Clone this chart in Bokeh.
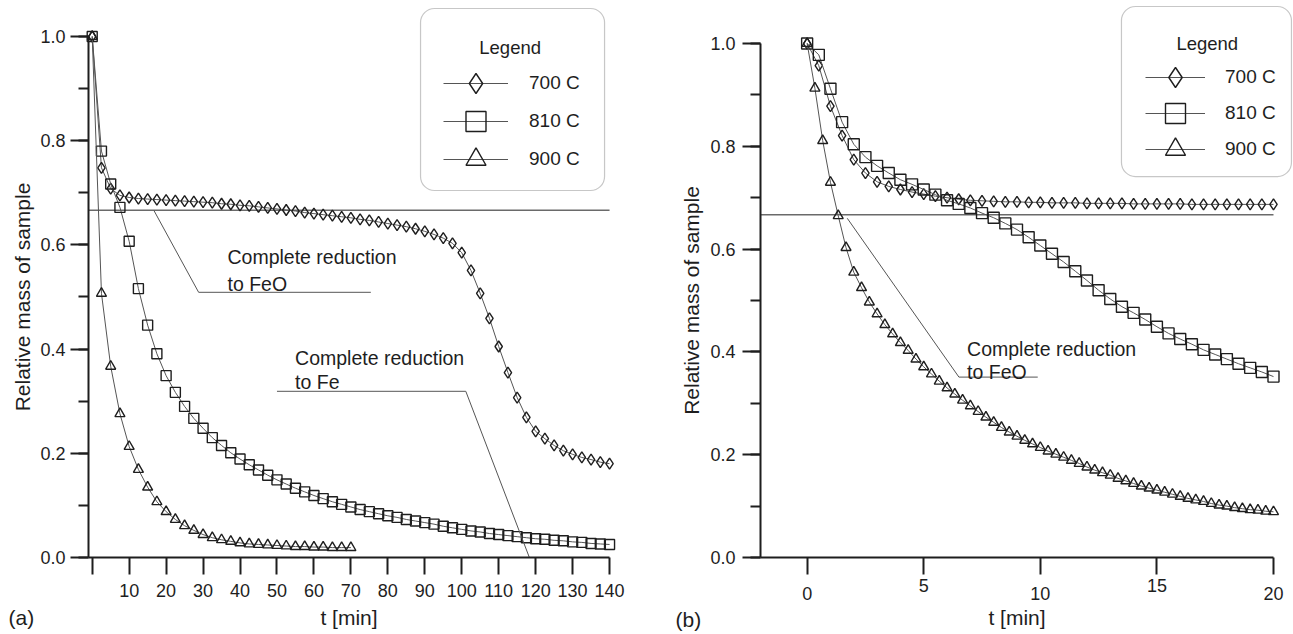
from bokeh.plotting import figure
from bokeh.models import (Range1d, FixedTicker, SingleIntervalTicker, NumeralTickFormatter,
                          Label, Legend, LegendItem, BoxAnnotation)
from bokeh.layouts import row
from bokeh.embed import file_html
from bokeh.resources import INLINE

# ---------------- data ----------------
# panel (a): 0 - 140 min
t_a = [0, 2.5, 5, 7.5, 10, 12.5, 15, 17.5, 20, 22.5, 25, 27.5, 30, 32.5, 35, 37.5, 40,
       42.5, 45, 47.5, 50, 52.5, 55, 57.5, 60, 62.5, 65, 67.5, 70, 72.5, 75, 77.5, 80,
       82.5, 85, 87.5, 90, 92.5, 95, 97.5, 100, 102.5, 105, 107.5, 110, 112.5, 115,
       117.5, 120, 122.5, 125, 127.5, 130, 132.5, 135, 137.5, 140]
m_a_700 = [1.000, 0.748, 0.708, 0.695, 0.691, 0.689, 0.688, 0.687, 0.686, 0.685,
           0.684, 0.683, 0.682, 0.681, 0.679, 0.678, 0.676, 0.675, 0.673, 0.671,
           0.669, 0.667, 0.665, 0.662, 0.660, 0.658, 0.656, 0.654, 0.652, 0.649,
           0.647, 0.644, 0.641, 0.638, 0.635, 0.631, 0.626, 0.620, 0.613, 0.603,
           0.585, 0.551, 0.507, 0.459, 0.405, 0.355, 0.307, 0.269, 0.242, 0.228,
           0.215, 0.205, 0.198, 0.192, 0.188, 0.183, 0.180]
m_a_810 = [1.000, 0.780, 0.717, 0.672, 0.607, 0.516, 0.446, 0.391, 0.349, 0.317,
           0.290, 0.267, 0.248, 0.230, 0.215, 0.201, 0.189, 0.178, 0.168, 0.158,
           0.149, 0.141, 0.133, 0.126, 0.119, 0.113, 0.107, 0.102, 0.097, 0.092,
           0.088, 0.084, 0.080, 0.077, 0.073, 0.070, 0.067, 0.064, 0.060, 0.057,
           0.054, 0.051, 0.049, 0.046, 0.044, 0.042, 0.040, 0.038, 0.036, 0.035,
           0.033, 0.032, 0.030, 0.029, 0.027, 0.026, 0.025]
t_a_900 = [0, 2.5, 5, 7.5, 10, 12.5, 15, 17.5, 20, 22.5, 25, 27.5, 30, 32.5, 35, 37.5,
           40, 42.5, 45, 47.5, 50, 52.5, 55, 57.5, 60, 62.5, 65, 67.5, 70]
m_a_900 = [1.000, 0.507, 0.367, 0.276, 0.213, 0.169, 0.135, 0.107, 0.088, 0.073,
           0.061, 0.052, 0.044, 0.038, 0.034, 0.031, 0.028, 0.026, 0.025, 0.024,
           0.023, 0.022, 0.021, 0.021, 0.020, 0.020, 0.019, 0.019, 0.019]

# panel (b): 0 - 20 min
t_b = [0, 0.5, 1, 1.5, 2, 2.5, 3, 3.5, 4, 4.5, 5, 5.5, 6, 6.5, 7, 7.5, 8, 8.5, 9, 9.5,
       10, 10.5, 11, 11.5, 12, 12.5, 13, 13.5, 14, 14.5, 15, 15.5, 16, 16.5, 17, 17.5,
       18, 18.5, 19, 19.5, 20]
m_b_700 = [1.000, 0.957, 0.878, 0.821, 0.774, 0.748, 0.731, 0.722, 0.716, 0.711,
           0.707, 0.703, 0.700, 0.697, 0.695, 0.694, 0.693, 0.692, 0.692, 0.691,
           0.691, 0.690, 0.690, 0.690, 0.689, 0.689, 0.689, 0.689, 0.688, 0.688,
           0.688, 0.688, 0.688, 0.687, 0.687, 0.687, 0.687, 0.687, 0.687, 0.687, 0.687]
m_b_810 = [1.000, 0.978, 0.912, 0.847, 0.804, 0.779, 0.762, 0.748, 0.735, 0.726,
           0.716, 0.706, 0.695, 0.688, 0.680, 0.670, 0.661, 0.650, 0.638, 0.623,
           0.607, 0.591, 0.575, 0.557, 0.539, 0.520, 0.503, 0.488, 0.476, 0.463,
           0.449, 0.436, 0.425, 0.415, 0.404, 0.395, 0.386, 0.377, 0.369, 0.361, 0.352]
t_b_900 = [0, 0.333, 0.667, 1, 1.333, 1.667, 2, 2.333, 2.667, 3, 3.333, 3.667, 4,
           4.333, 4.667, 5, 5.333, 5.667, 6, 6.333, 6.667, 7, 7.333, 7.667, 8, 8.333,
           8.667, 9, 9.333, 9.667, 10, 10.333, 10.667, 11, 11.333, 11.667, 12, 12.333,
           12.667, 13, 13.333, 13.667, 14, 14.333, 14.667, 15, 15.333, 15.667, 16,
           16.333, 16.667, 17, 17.333, 17.667, 18, 18.333, 18.667, 19, 19.333, 19.667, 20]
m_b_900 = [1.000, 0.913, 0.811, 0.730, 0.665, 0.603, 0.555, 0.525, 0.497, 0.474,
           0.453, 0.435, 0.418, 0.403, 0.386, 0.371, 0.357, 0.343, 0.330, 0.318,
           0.306, 0.295, 0.284, 0.273, 0.263, 0.253, 0.244, 0.236, 0.228, 0.221,
           0.214, 0.207, 0.201, 0.195, 0.189, 0.183, 0.176, 0.170, 0.165, 0.160,
           0.154, 0.149, 0.144, 0.139, 0.135, 0.131, 0.127, 0.123, 0.119, 0.115,
           0.112, 0.109, 0.105, 0.102, 0.100, 0.097, 0.095, 0.093, 0.092, 0.090, 0.089]

series_labels = ["700 C", "810 C", "900 C"]
series_markers = ["diamond", "square", "triangle"]
x_ticks_a = [10, 20, 30, 40, 50, 60, 70, 80, 90, 100, 110, 120, 130, 140]
x_ticks_b = [0, 10, 20]
x_ticks_b_raised = [5, 15]
FEO_LEVEL = 2 / 3

# ---------------- style ----------------
FONT = "Liberation Sans"
INK = "#1e1e1e"
CURVE = "#555555"
REF = "#6a6a6a"


def style_axes(p, xticks, xminor, x0, xbounds, xlab_so, xtitle_so, ylab_so, ytitle_so):
    p.xgrid.visible = False
    p.ygrid.visible = False
    p.outline_line_color = None
    p.background_fill_color = "white"
    p.border_fill_color = "white"
    xa = p.xaxis[0]
    xa.fixed_location = 0
    xa.ticker = FixedTicker(ticks=xticks, minor_ticks=xminor)
    xa.bounds = xbounds
    xa.major_tick_in = 0
    xa.major_tick_out = 17
    xa.minor_tick_in = 0
    xa.minor_tick_out = 17
    xa.major_label_standoff = xlab_so
    xa.axis_label_standoff = xtitle_so
    ya = p.yaxis[0]
    ya.fixed_location = x0
    ya.ticker = SingleIntervalTicker(interval=0.2, num_minor_ticks=2)
    ya.formatter = NumeralTickFormatter(format="0.0")
    ya.bounds = (0, 1)
    ya.major_tick_in = 0
    ya.major_tick_out = 18
    ya.minor_tick_in = 0
    ya.minor_tick_out = 10
    ya.major_label_standoff = ylab_so
    ya.axis_label_standoff = ytitle_so
    for ax in (xa, ya):
        ax.axis_line_color = INK
        ax.axis_line_width = 2
        ax.major_tick_line_color = INK
        ax.major_tick_line_width = 2
        ax.minor_tick_line_color = INK
        ax.minor_tick_line_width = 2
        ax.major_label_text_font = FONT
        ax.major_label_text_font_size = "18px"
        ax.major_label_text_color = INK
        ax.axis_label_text_font = FONT
        ax.axis_label_text_font_size = "21px"
        ax.axis_label_text_font_style = "normal"
        ax.axis_label_text_color = INK


def add_series(p, xs, ys, marker, size):
    lr = p.line(xs, ys, line_color=CURVE, line_width=1)
    mr = p.scatter(xs, ys, marker=marker, size=size, fill_color=None,
                   line_color=INK, line_width=1.4)
    return [lr, mr]


def text(p, x, y, s, size="19.5px", align="left", baseline="alphabetic"):
    p.add_layout(Label(x=x, y=y, text=s, text_font=FONT, text_font_size=size,
                       text_color=INK, text_align=align, text_baseline=baseline))


def legend_entry(p, label, renderers, loc, gw, standoff):
    p.add_layout(Legend(items=[LegendItem(label=label, renderers=renderers)],
                        location=loc, glyph_width=gw, glyph_height=50,
                        spacing=0, padding=0, margin=0, label_standoff=standoff,
                        label_text_font=FONT, label_text_font_size="19px",
                        label_text_color=INK, background_fill_alpha=0,
                        border_line_alpha=0))


# ---------------- panel (a) ----------------
pa = figure(width=646, height=634, x_range=Range1d(-24.82, 150.0),
            y_range=Range1d(-0.1478, 1.0691), min_border_left=0, min_border_right=0,
            min_border_top=0, min_border_bottom=0, output_backend="svg",
            toolbar_location=None, x_axis_label="t [min]",
            y_axis_label="Relative mass of sample")
style_axes(pa, x_ticks_a, [0], -1, (-1, 140), 10, 5, 5, 3)

pa.segment(x0=[-1], y0=[FEO_LEVEL], x1=[140], y1=[FEO_LEVEL], line_color=REF, line_width=1.5)
ra = [add_series(pa, t_a, m_a_700, series_markers[0], 11),
      add_series(pa, t_a, m_a_810, series_markers[1], 10),
      add_series(pa, t_a_900, m_a_900, series_markers[2], 10)]

pa.line([16.7, 28.8, 75.4], [0.666, 0.509, 0.509], line_color=CURVE, line_width=1)
pa.line([50.0, 101.1, 118.3], [0.319, 0.319, 0.0], line_color=CURVE, line_width=1)
text(pa, 36.6, 0.576, "Complete reduction")
text(pa, 36.6, 0.524, "to FeO")
text(pa, 54.9, 0.382, "Complete reduction")
text(pa, 54.9, 0.336, "to Fe")
text(pa, -22.65, -0.115, "(a)", size="21px", baseline="middle")

pa.add_layout(BoxAnnotation(left=88.85, right=138.65, top=1.0537, bottom=0.7044,
                            fill_alpha=0, line_color="#444444", line_width=1.2,
                            border_radius=14))
text(pa, 113.1, 0.9795, "Legend", size="18.5px", align="center")
for lab, rs, yloc in zip(series_labels, ra, [526, 488, 450]):
    legend_entry(pa, lab, rs, (443, yloc), 65, 21)

# ---------------- panel (b) ----------------
pb = figure(width=647, height=634, x_range=Range1d(-6.889, 20.858),
            y_range=Range1d(-0.1498, 1.0837), min_border_left=0, min_border_right=0,
            min_border_top=0, min_border_bottom=0, output_backend="svg",
            toolbar_location=None, x_axis_label="t [min]",
            y_axis_label="Relative mass of sample")
style_axes(pb, x_ticks_b, x_ticks_b_raised, -2, (-2, 20), 12, 3, 7, 4)

pb.segment(x0=[-2], y0=[FEO_LEVEL], x1=[20], y1=[FEO_LEVEL], line_color=REF, line_width=1.5)
rb = [add_series(pb, t_b, m_b_700, series_markers[0], 11),
      add_series(pb, t_b, m_b_810, series_markers[1], 11),
      add_series(pb, t_b_900, m_b_900, series_markers[2], 10)]

for xv in x_ticks_b_raised:
    text(pb, xv, -0.0545, str(xv), size="18px", align="center")

pb.line([1.72, 6.51, 9.89], [0.660, 0.351, 0.351], line_color=CURVE, line_width=1)
text(pb, 6.86, 0.406, "Complete reduction")
text(pb, 6.86, 0.3605, "to FeO")
text(pb, -5.645, -0.1206, "(b)", size="21px", baseline="middle")

pb.add_layout(BoxAnnotation(left=13.48, right=20.77, top=1.072, bottom=0.7412,
                            fill_alpha=0, line_color="#444444", line_width=1.2,
                            border_radius=14))
text(pb, 17.16, 1.0, "Legend", size="18.5px", align="center")
for lab, rs, yloc in zip(series_labels, rb, [532, 496, 460]):
    legend_entry(pb, lab, rs, (499, yloc), 60, 20)

layout = row(pa, pb)
open("out.html", "w").write(file_html(layout, INLINE))
